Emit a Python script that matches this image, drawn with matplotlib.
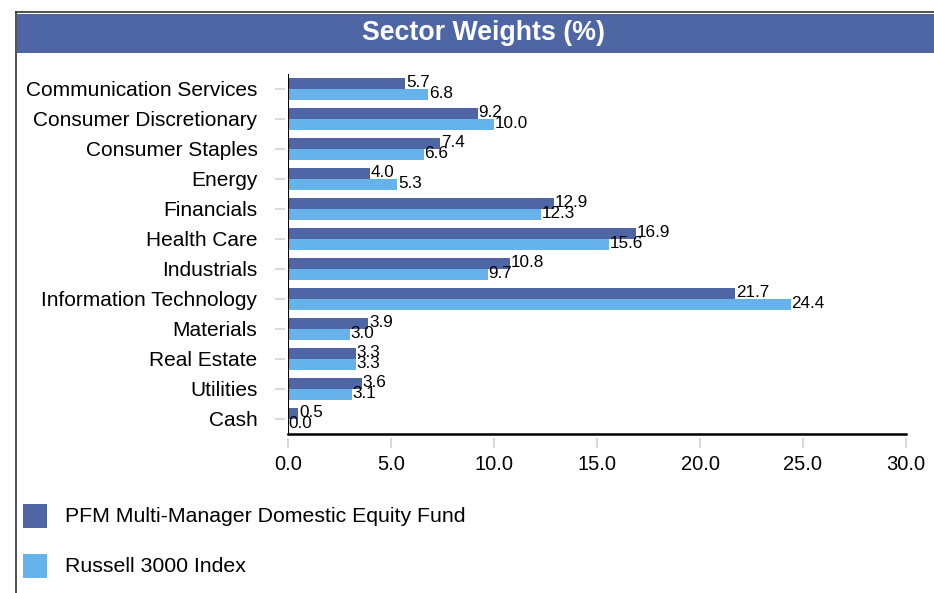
import matplotlib
matplotlib.use("Agg")
import matplotlib.pyplot as plt
from matplotlib.patches import Rectangle
from matplotlib.lines import Line2D
import numpy as np

plt.rcParams['font.family'] = ['Liberation Sans', 'DejaVu Sans']

title = "Sector Weights (%)"
categories = ["Communication Services", "Consumer Discretionary", "Consumer Staples",
              "Energy", "Financials", "Health Care", "Industrials",
              "Information Technology", "Materials", "Real Estate", "Utilities", "Cash"]
series_names = ["PFM Multi-Manager Domestic Equity Fund", "Russell 3000 Index"]
fund = [5.7, 9.2, 7.4, 4.0, 12.9, 16.9, 10.8, 21.7, 3.9, 3.3, 3.6, 0.5]
index = [6.8, 10.0, 6.6, 5.3, 12.3, 15.6, 9.7, 24.4, 3.0, 3.3, 3.1, 0.0]
xticks = [0, 5, 10, 15, 20, 25, 30]
colors = ["#4F66A5", "#66B2EA"]

W, H = 934, 593
fig = plt.figure(figsize=(W / 100, H / 100), dpi=100)

# frame and title band
fig.add_artist(Line2D([16 / W, 1], [1 - 12 / H, 1 - 12 / H], color="#333333", lw=1.2))
fig.add_artist(Line2D([16 / W, 16 / W], [0, 1 - 12 / H], color="#333333", lw=1.2))
fig.add_artist(Rectangle((17 / W, 1 - 53 / H), 1 - 17 / W, 39 / H, color=colors[0], lw=0))
fig.text(484 / W, 1 - 33.5 / H, title, color="white", fontsize=19.3,
         fontweight="bold", ha="center", va="center")

ax = fig.add_axes([288 / W, 1 - 434 / H, (906 - 288) / W, (434 - 74) / H])
y = np.arange(len(categories))
h = 0.37
off = 0.19
b1 = ax.barh(y - off, fund, height=h, color=colors[0], label=series_names[0])
b2 = ax.barh(y + off, index, height=h, color=colors[1], label=series_names[1])
for bars, vals in ((b1, fund), (b2, index)):
    for bar, v in zip(bars, vals):
        ax.text(v + 0.03, bar.get_y() + bar.get_height() / 2 - 0.03, f"{v:.1f}",
                fontsize=12.3, va="center", ha="left", color="black")

for s in ax.spines.values():
    s.set_visible(False)
ax.spines['left'].set_position(('outward', 2))
ax.spines['bottom'].set_position(('outward', 3))

ax.set_xlim(0, 30)
ax.set_ylim(len(categories) - 0.5, -0.5)
ax.set_yticks(y)
ax.set_yticklabels(categories)
ax.set_xticks(xticks)
ax.set_xticklabels([f"{t:.1f}" for t in xticks])
ax.axvline(0, color="black", lw=1.5, zorder=5)
ax.axhline(len(categories) - 0.5, color="black", lw=1.8, zorder=5, clip_on=False)
ax.tick_params(axis='y', length=7, width=1.5, color="#d9d9d9", pad=13, labelsize=15)
ax.tick_params(axis='x', length=7, width=1.5, color="#d9d9d9", pad=5, labelsize=14.5)

# legend
for i, name in enumerate(series_names):
    yc = 516 + 50 * i
    fig.add_artist(Rectangle((23 / W, 1 - (yc + 12) / H), 24 / W, 24 / H, color=colors[i], lw=0))
    fig.text(65 / W, 1 - yc / H, name, fontsize=15.3, va="center", ha="left")

fig.savefig("out.png", dpi=100)
